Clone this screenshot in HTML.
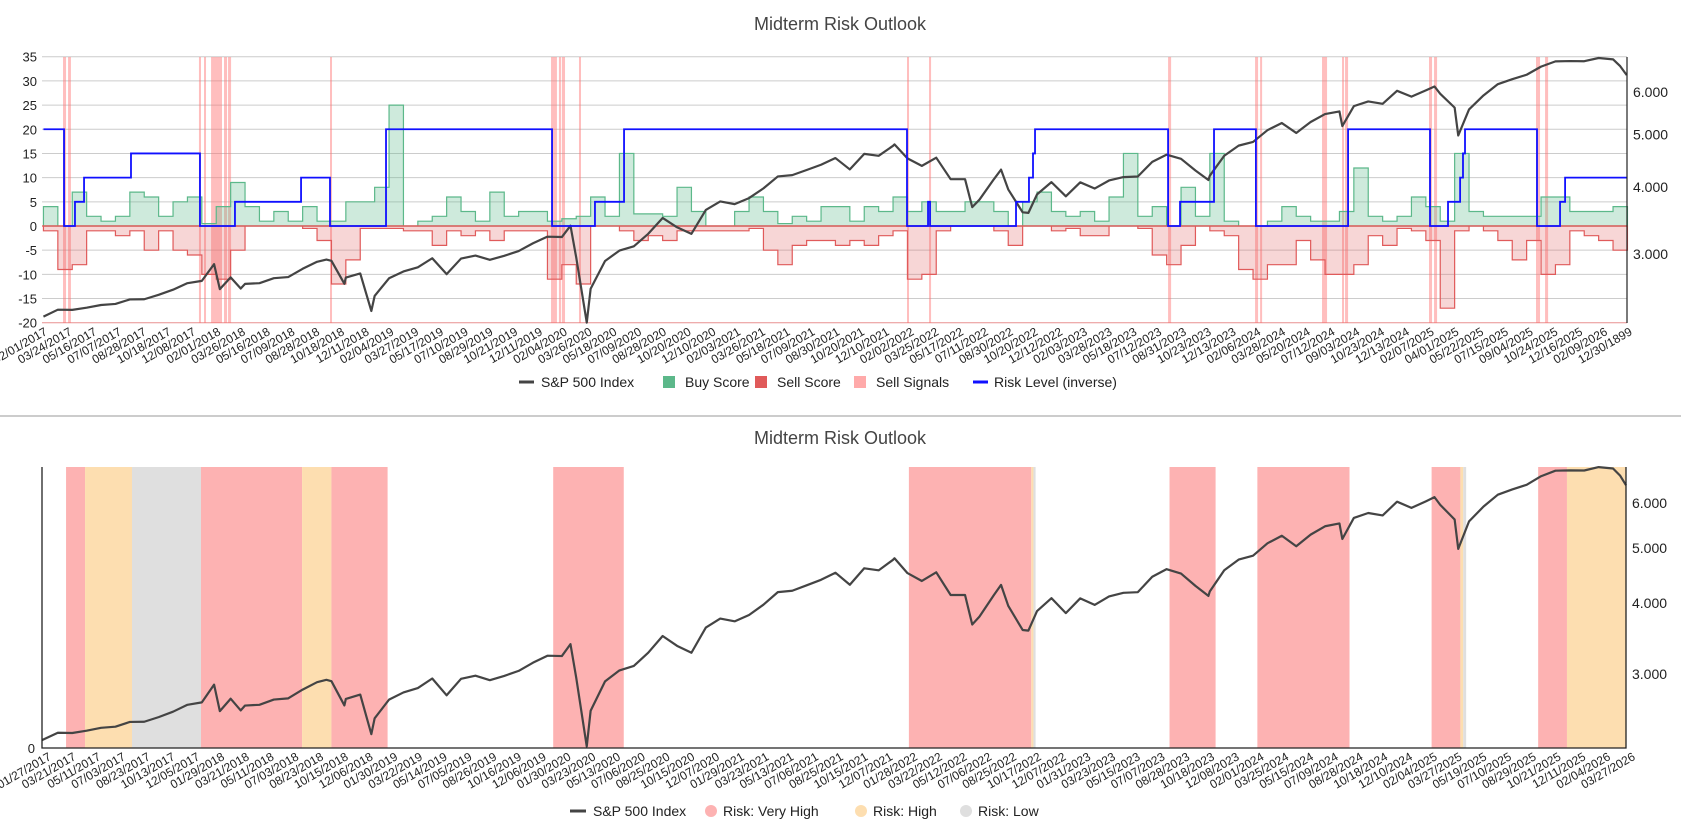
<!DOCTYPE html>
<html><head><meta charset="utf-8">
<style>
html,body{margin:0;padding:0;background:#fff;}
svg{display:block;font-family:"Liberation Sans",Arial,sans-serif;}
</style></head>
<body>
<svg id="c" width="1681" height="819" viewBox="0 0 1681 819" xmlns="http://www.w3.org/2000/svg">
<text x="840" y="30" text-anchor="middle" font-size="18" fill="#444">Midterm Risk Outlook</text>
<line x1="0" y1="416" x2="1681" y2="416" stroke="#bbb" stroke-width="1.5"/>
<text x="840" y="444" text-anchor="middle" font-size="18" fill="#444">Midterm Risk Outlook</text>
<g id="topChart"></g>
<g id="botChart"></g>
<g font-size="14" fill="#222">
 <line x1="519" y1="382" x2="534" y2="382" stroke="#444" stroke-width="3"/>
 <text x="541" y="387">S&amp;P 500 Index</text>
 <rect x="663" y="376" width="12" height="12" fill="#5cb88a"/>
 <text x="685" y="387">Buy Score</text>
 <rect x="755" y="376" width="12" height="12" fill="#e05a5a"/>
 <text x="777" y="387">Sell Score</text>
 <rect x="854" y="376" width="12" height="12" fill="#ffaaaa"/>
 <text x="876" y="387">Sell Signals</text>
 <line x1="973" y1="382" x2="988" y2="382" stroke="#1010ff" stroke-width="3"/>
 <text x="994" y="387">Risk Level (inverse)</text>
</g>
<g font-size="14" fill="#222">
 <line x1="570" y1="811" x2="586" y2="811" stroke="#444" stroke-width="3"/>
 <text x="593" y="816">S&amp;P 500 Index</text>
 <circle cx="711" cy="811" r="6" fill="#fdb2b2"/>
 <text x="723" y="816">Risk: Very High</text>
 <circle cx="861" cy="811" r="6" fill="#fddeb0"/>
 <text x="873" y="816">Risk: High</text>
 <circle cx="966" cy="811" r="6" fill="#dfdfdf"/>
 <text x="978" y="816">Risk: Low</text>
</g>
</svg>
<script>
// ---- data (months since Jan 2017) ----
const spxMonths=[0.9,2,3,4,5,6,7,8,9,10,11,12,12.85,13.25,14,14.7,15,16,17,18,19,20,20.65,21,21.9,22,23,23.77,24,25,26,27,28,29,30,31,32,33,34,35,36,37,37.6,38,38.73,39,40,41,42,43,44,45,46,47,48,49,50,51,52,53,54,55,56,57,58,59,60,60.1,61,62,63,64,65,65.5,66,67,67.5,68,69,69.4,70,71,72,73,74,75,76,77,78,79,80,81,81.9,82,83,84,85,86,87,88,89,90,91,91.2,92,93,94,95,96,97,97.6,98,99,99.25,100,101,102,103,104,105,106,107,108,109,110,110.5,110.95];
const spxValues=[2295,2364,2362,2384,2412,2423,2470,2472,2519,2575,2648,2674,2873,2581,2714,2588,2640,2648,2705,2718,2816,2902,2930,2914,2641,2712,2760,2351,2507,2704,2784,2834,2946,2752,2942,2980,2926,2977,3038,3141,3231,3226,3386,2954,2237,2585,2912,3044,3100,3271,3500,3363,3270,3622,3756,3714,3811,3973,4181,4204,4298,4395,4523,4308,4605,4567,4766,4796,4516,4374,4530,4132,4132,3666,3785,4130,4305,3955,3586,3577,3872,4080,3840,4077,3970,4109,4169,4180,4450,4589,4508,4288,4117,4194,4568,4770,4846,5096,5254,5036,5278,5460,5522,5186,5648,5762,5705,6032,5882,6041,6144,5955,5612,4982,5569,5912,6205,6339,6460,6688,6840,6849,6845,6940,6900,6700,6450];
const buyScore=[4,0,7,2,1,2,7,6,2,5,6,0.5,4,9,4,1,3,1,4,1,1,5,5,8,25,0,1,2,6,3,1,7,2,3,3,1,1.5,2,6,2,15,2.5,2.5,2,8,3,0,0,3,6,3,0.5,2,1,4,4,1,4,3,6,3,5,3,3,5,5,3,0,5,7,3,2,3,1,6,15,2,4,0,8,2,15,1,0,0,1,4,2,1,1,3,12,2,1,2,6,4,1,15,3,2,2,2,2,6,6,3,3,3,4];
const sellScore=[1,9,8,1,1,2,1,5,1,5,6,10,11,5,0,0,0,0,0.5,3,12,7,0.5,0.5,0.5,1,1,4,1,2,1,3,1,1,1,11,8,12,0,0,1,3,2,3,1,1,1,1,1,0.5,5,8,4,3,3,4,3,4,2,1,11,10,1,0,0,0,1,4,0,0,1,0.5,2,2,0,0,0.5,6,8,4,0,1,2,9,11,8,8,3,7,10,10,8,2,4,0.5,1,3,17,1,0,1,3,7,3,10,8,1,2,3,5];
const riskChangeMonths=[1,2.43,3.19,3.82,7.08,11.87,14.3,18.89,20.9,24.79,36.32,39.3,41.32,60.97,62.43,62.57,68.54,69.44,69.72,69.86,79.1,79.93,82.29,85.2,91.6,97.29,98.54,99.38,99.58,99.72,104.72,106.32,106.67];
const riskLevels=[20,0,5,10,15,0,5,10,0,20,0,5,20,0,5,0,5,10,15,20,0,5,20,0,20,0,5,10,15,20,0,5,10];
const signalStarts=[2.36,2.71,11.8,12.15,12.64,13.54,13.82,20.9,36.25,36.8,37.0,38.19,60.97,62.5,79.1,85.14,85.49,89.79,91.18,91.39,97.22,97.57,104.65,105.28];
const signalEnds=[2.57,2.91,11.94,12.29,13.4,13.75,14.03,21.04,36.66,36.87,37.22,38.33,61.11,62.64,79.31,85.35,85.63,90.14,91.32,91.6,97.43,97.78,104.93,105.49];
const bandStarts=[2.57,3.89,7.15,11.94,18.96,21.0,36.4,61.1,69.6,69.75,79.2,85.3,97.4,99.4,99.6,104.8,106.8];
const bandEnds=[3.89,7.15,11.94,18.96,21.0,24.9,41.3,69.6,69.75,69.9,82.4,91.7,99.4,99.6,99.8,106.8,110.9];
const bandLevels=["vh","h","l","vh","h","vh","vh","vh","h","l","vh","vh","vh","h","l","vh","h"];
const leftTicks=[35,30,25,20,15,10,5,0,-5,-10,-15,-20];
const rightTicks=[3000,4000,5000,6000];
const rightTickLabels=["3.000","4.000","5.000","6.000"];
const topDateLabels=["02/01/2017","03/24/2017","05/16/2017","07/07/2017","08/28/2017","10/18/2017","12/08/2017","02/01/2018","03/26/2018","05/16/2018","07/09/2018","08/28/2018","10/18/2018","12/11/2018","02/04/2019","03/27/2019","05/17/2019","07/10/2019","08/29/2019","10/21/2019","12/11/2019","02/04/2020","03/26/2020","05/18/2020","07/09/2020","08/28/2020","10/20/2020","12/10/2020","02/03/2021","03/26/2021","05/18/2021","07/09/2021","08/30/2021","10/20/2021","12/10/2021","02/02/2022","03/25/2022","05/17/2022","07/11/2022","08/30/2022","10/20/2022","12/12/2022","02/03/2023","03/28/2023","05/18/2023","07/12/2023","08/31/2023","10/23/2023","12/13/2023","02/06/2024","03/28/2024","05/20/2024","07/12/2024","09/03/2024","10/23/2024","12/13/2024","02/07/2025","04/01/2025","05/22/2025","07/15/2025","09/04/2025","10/24/2025","12/16/2025","02/09/2026","12/30/1899"];
const botDateLabels=["01/27/2017","03/21/2017","05/11/2017","07/03/2017","08/23/2017","10/13/2017","12/05/2017","01/29/2018","03/21/2018","05/11/2018","07/03/2018","08/23/2018","10/15/2018","12/06/2018","01/30/2019","03/22/2019","05/14/2019","07/05/2019","08/26/2019","10/16/2019","12/06/2019","01/30/2020","03/23/2020","05/13/2020","07/06/2020","08/25/2020","10/15/2020","12/07/2020","01/29/2021","03/23/2021","05/13/2021","07/06/2021","08/25/2021","10/15/2021","12/07/2021","01/28/2022","03/22/2022","05/12/2022","07/06/2022","08/25/2022","10/17/2022","12/07/2022","01/31/2023","03/23/2023","05/15/2023","07/07/2023","08/28/2023","10/18/2023","12/08/2023","02/01/2024","03/25/2024","05/15/2024","07/09/2024","08/28/2024","10/18/2024","12/10/2024","02/04/2025","03/27/2025","05/19/2025","07/10/2025","08/29/2025","10/21/2025","12/11/2025","02/04/2026","03/27/2026"];

// ---- scales ----
const NS="http://www.w3.org/2000/svg";
const X0=42,X1=1627;
function xM(m){return X0+(m-0.9)*14.4;}
function yL(v){return 226-v*4.836;}
function yRT(p){return 254-Math.log(p/3000)*233.7;}
function yRB(p){return 674-Math.log(p/3000)*246.7;}
function mk(tag,attrs,parent){const e=document.createElementNS(NS,tag);for(const k in attrs)e.setAttribute(k,attrs[k]);parent.appendChild(e);return e;}
const topG=document.getElementById('topChart'),botG=document.getElementById('botChart');

// ---- TOP CHART ----
leftTicks.forEach((t,i)=>{
  const y=yL(t);
  const g=mk('line',{x1:X0,x2:X1,y1:y,y2:y,stroke:t===-20?'#e89090':'#cccccc','stroke-width':1},topG);
  
  
  const tx=mk('text',{x:37,y:y+5,'text-anchor':'end','font-size':13,fill:'#222'},topG);
  tx.textContent=t;
  
  
});
signalStarts.forEach((s,i)=>{
  const r=mk('rect',{x:xM(s),y:57,width:Math.max(2,xM(signalEnds[i])-xM(s)),height:266,fill:'rgba(255,110,110,0.45)'},topG);
  
  
});
function stepPath(vals,sign){
  let d='M'+xM(1)+','+yL(0);
  vals.forEach((v,i)=>{const k=i+1;d+=' L'+xM(k)+','+yL(sign*v)+' L'+xM(k+1)+','+yL(sign*v);});
  d+=' L'+xM(vals.length+1)+','+yL(0)+' Z';return d;
}
const buy=mk('path',{d:stepPath(buyScore,1),fill:'rgba(92,184,138,0.3)',stroke:'#5cb88a','stroke-width':1.2},topG);


const sell=mk('path',{d:stepPath(sellScore,-1),fill:'rgba(224,90,90,0.25)',stroke:'#e05a5a','stroke-width':1.2},topG);


const zl=mk('line',{x1:X0,x2:X1,y1:yL(0),y2:yL(0),stroke:'#e05a5a','stroke-width':1.2},topG);


let spd='';spxMonths.forEach((m,i)=>{spd+=(i?' L':'M')+Math.min(X1,xM(Math.max(1,m)))+','+yRT(spxValues[i]);});
const spT=mk('path',{d:spd,fill:'none',stroke:'#444','stroke-width':2.2,'stroke-linejoin':'round'},topG);


let rd='';riskChangeMonths.forEach((m,i)=>{const y=yL(riskLevels[i]);const x=xM(Math.max(1,m));rd+=(i?' L'+x+','+yL(riskLevels[i-1])+' L':'M')+x+','+y;});
rd+=' L'+X1+','+yL(riskLevels[riskLevels.length-1]);
const rk=mk('path',{d:rd,fill:'none',stroke:'#1010ff','stroke-width':1.8},topG);


const ra=mk('line',{x1:X1,x2:X1,y1:57,y2:323,stroke:'#222','stroke-width':1.2},topG);


rightTicks.forEach((t,i)=>{
  const tx=mk('text',{x:1633,y:yRT(t)+5,'font-size':14,fill:'#222'},topG);
  tx.textContent=rightTickLabels[i];
  
  
});
topDateLabels.forEach((l,i)=>{
  const x=X0+i*(X1-X0)/(topDateLabels.length-1)+6;
  const tx=mk('text',{x:x,y:334,'text-anchor':'end','font-size':12,fill:'#222',transform:'rotate(-30 '+x+' 334)'},topG);
  tx.textContent=l;
  
  
});

// ---- BOTTOM CHART ----
const bandColor={vh:'#fdb2b2',h:'#fddeb0',l:'#dfdfdf'};
bandStarts.forEach((s,i)=>{
  const r=mk('rect',{x:xM(s),y:467,width:xM(bandEnds[i])-xM(s),height:281,fill:bandColor[bandLevels[i]]},botG);
  
  
});
let bpd='';spxMonths.forEach((m,i)=>{bpd+=(i?' L':'M')+Math.min(1626,xM(m))+','+yRB(spxValues[i]);});
const spB=mk('path',{d:bpd,fill:'none',stroke:'#444','stroke-width':2.2,'stroke-linejoin':'round'},botG);


const axl=mk('path',{d:'M42,467 L42,748 L1626,748 L1626,467',fill:'none',stroke:'#222','stroke-width':1.3},botG);


const z0=mk('text',{x:35,y:753,'text-anchor':'end','font-size':13,fill:'#222'},botG);
z0.textContent='0';


rightTicks.forEach((t,i)=>{
  const tx=mk('text',{x:1632,y:yRB(t)+5,'font-size':14,fill:'#222'},botG);
  tx.textContent=rightTickLabels[i];
  
  
});
botDateLabels.forEach((l,i)=>{
  const x=42+i*(1626-42)/(botDateLabels.length-1)+10;
  const tx=mk('text',{x:x,y:759,'text-anchor':'end','font-size':12,fill:'#222',transform:'rotate(-30 '+x+' 759)'},botG);
  tx.textContent=l;
  
  
});
</script>
</body></html>
